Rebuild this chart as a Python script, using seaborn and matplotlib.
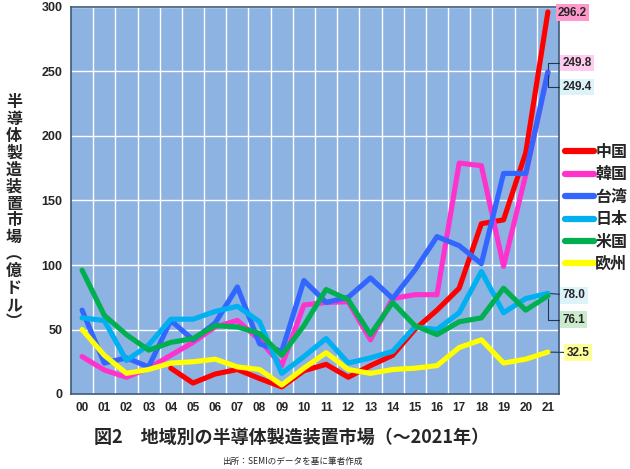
import numpy as np
import pandas as pd
import matplotlib
matplotlib.use("Agg")
import matplotlib.pyplot as plt
import seaborn as sns
from matplotlib.lines import Line2D

years = ["00", "01", "02", "03", "04", "05", "06", "07", "08", "09", "10",
         "11", "12", "13", "14", "15", "16", "17", "18", "19", "20", "21"]
regions = ["中国", "韓国", "台湾", "日本", "米国", "欧州"]

china = [np.nan, np.nan, np.nan, np.nan, 20, 8.5, 15.5, 19, 12, 5.5, 18,
         23, 13, 22, 30, 50, 65, 82, 132, 135, 187, 296.2]
korea = [29, 18.6, 13, 20, 30, 40, 52, 57, 42, 22, 69,
         71, 71.5, 42, 74, 77, 77, 179, 177, 99, 170, 249.8]
taiwan = [65, 24, 28, 21, 57, 42, 55, 83, 39, 33, 88,
          71, 75, 90, 74, 96, 122, 115, 101, 171, 171, 249.4]
japan = [59, 57, 26, 38, 58, 58, 64, 68, 56, 16, 29,
         43, 24, 28, 33, 52, 50, 63, 95, 63, 74, 78.0]
usa = [96, 61, 46, 34, 40, 43, 53, 52, 47, 30, 53,
       81, 73, 46, 71, 53, 46, 56, 59, 82, 65, 76.1]
europe = [50, 30, 16, 19, 24, 25, 27, 21, 19, 7, 20,
          32, 19, 16, 19, 20, 22, 36, 42, 24, 27, 32.5]

series = [china, korea, taiwan, japan, usa, europe]
colors = ["#FF0000", "#FF33CC", "#3366FF", "#00B0F0", "#00B050", "#FFFF00"]

rows = []
for reg, vals in zip(regions, series):
    for i, v in enumerate(vals):
        rows.append({"year": i, "value": v, "region": reg})
df = pd.DataFrame(rows).dropna()

sns.set_style("white")
plt.rcParams["font.family"] = ["Liberation Sans", "Noto Sans CJK JP"]
JP = ["Noto Sans CJK JP", "Liberation Sans"]

fig = plt.figure(figsize=(6.3, 4.69), dpi=100)
ax = fig.add_axes([71 / 630, 1 - 394 / 469, (559 - 71) / 630, (394 - 7) / 469])
ax.set_facecolor("#8DB3E2")

sns.lineplot(data=df, x="year", y="value", hue="region", hue_order=regions,
             palette=colors, linewidth=3.7, ax=ax, legend=False,
             estimator=None, sort=True)

ax.set_xlim(-0.5, 21.5)
ax.set_ylim(0, 300)
ax.set_xticks(range(len(years)))
ax.set_xticklabels(years, fontsize=8.5, fontweight="bold")
ax.set_yticks(range(0, 301, 50))
ax.set_yticklabels([str(v) for v in range(0, 301, 50)], fontsize=9, fontweight="bold")
ax.tick_params(length=0, pad=6)
ax.set_xticks(np.arange(0.5, 21, 1), minor=True)
ax.tick_params(which="minor", length=0)
ax.grid(False)
ax.grid(True, which="minor", axis="x", color="white", lw=1)
ax.grid(True, which="major", axis="y", color="white", lw=1)
ax.set_axisbelow(True)
ax.set_xlabel("")
ax.set_ylabel("")
for s in ax.spines.values():
    s.set_color("#3F5A78")
    s.set_linewidth(1.2)

# legend
handles = [Line2D([0], [0], color=c, lw=4.5) for c in colors]
leg = fig.legend(handles, regions, loc="upper left",
                 bbox_to_anchor=(565 / 630, 1 - 144 / 469), frameon=False,
                 prop={"family": JP, "size": 11.5, "weight": "bold"},
                 handlelength=1.8, handletextpad=0.1, labelspacing=0.4,
                 borderaxespad=0, borderpad=0)

# value labels
labels = [
    ("296.2", 296.2, 295.5, "#FF99CC", None),
    ("249.8", 249.8, 256.5, "#FFCCF0", "angle,angleA=0,angleB=90,rad=0"),
    ("249.4", 249.4, 238.0, "#DDF3FA", "angle,angleA=0,angleB=90,rad=0"),
    ("78.0", 78.0, 76.5, "#DDF3FA", "arc3"),
    ("76.1", 76.1, 57.5, "#CCEBCC", "angle,angleA=0,angleB=90,rad=0"),
    ("32.5", 32.5, 32.0, "#FFFF99", "arc3"),
]
for txt, v, ty, fc, cs in labels:
    tx = 21.65 if txt != "32.5" else 21.85
    if txt == "296.2":
        tx = 21.45
    arrow = None if cs is None else dict(arrowstyle="-", color="#1F3850",
                                         lw=0.8, connectionstyle=cs,
                                         shrinkA=0, shrinkB=2)
    ax.annotate(txt, xy=(21, v), xytext=(tx, ty), textcoords="data",
                ha="left", va="center", fontsize=8.5, fontweight="bold",
                annotation_clip=False, arrowprops=arrow,
                bbox=dict(boxstyle="square,pad=0.2", fc=fc, ec="none"))

# y label (vertical text)
ylab = "半導体製造装置市場︵億ドル︶"
fig.text(14 / 630, 1 - 212 / 469, "\n".join(ylab), ha="center", va="center",
         family=JP, fontsize=11.5, fontweight="bold", linespacing=1.07)

fig.text(292 / 630, 1 - 437 / 469, "図2　地域別の半導体製造装置市場（～2021年）",
         ha="center", va="center", family=JP, fontsize=13, fontweight="bold")
fig.text(292 / 630, 1 - 461 / 469, "出所：SEMIのデータを基に筆者作成",
         ha="center", va="center", family=JP, fontsize=6.2)

fig.savefig("out.png", dpi=100)
